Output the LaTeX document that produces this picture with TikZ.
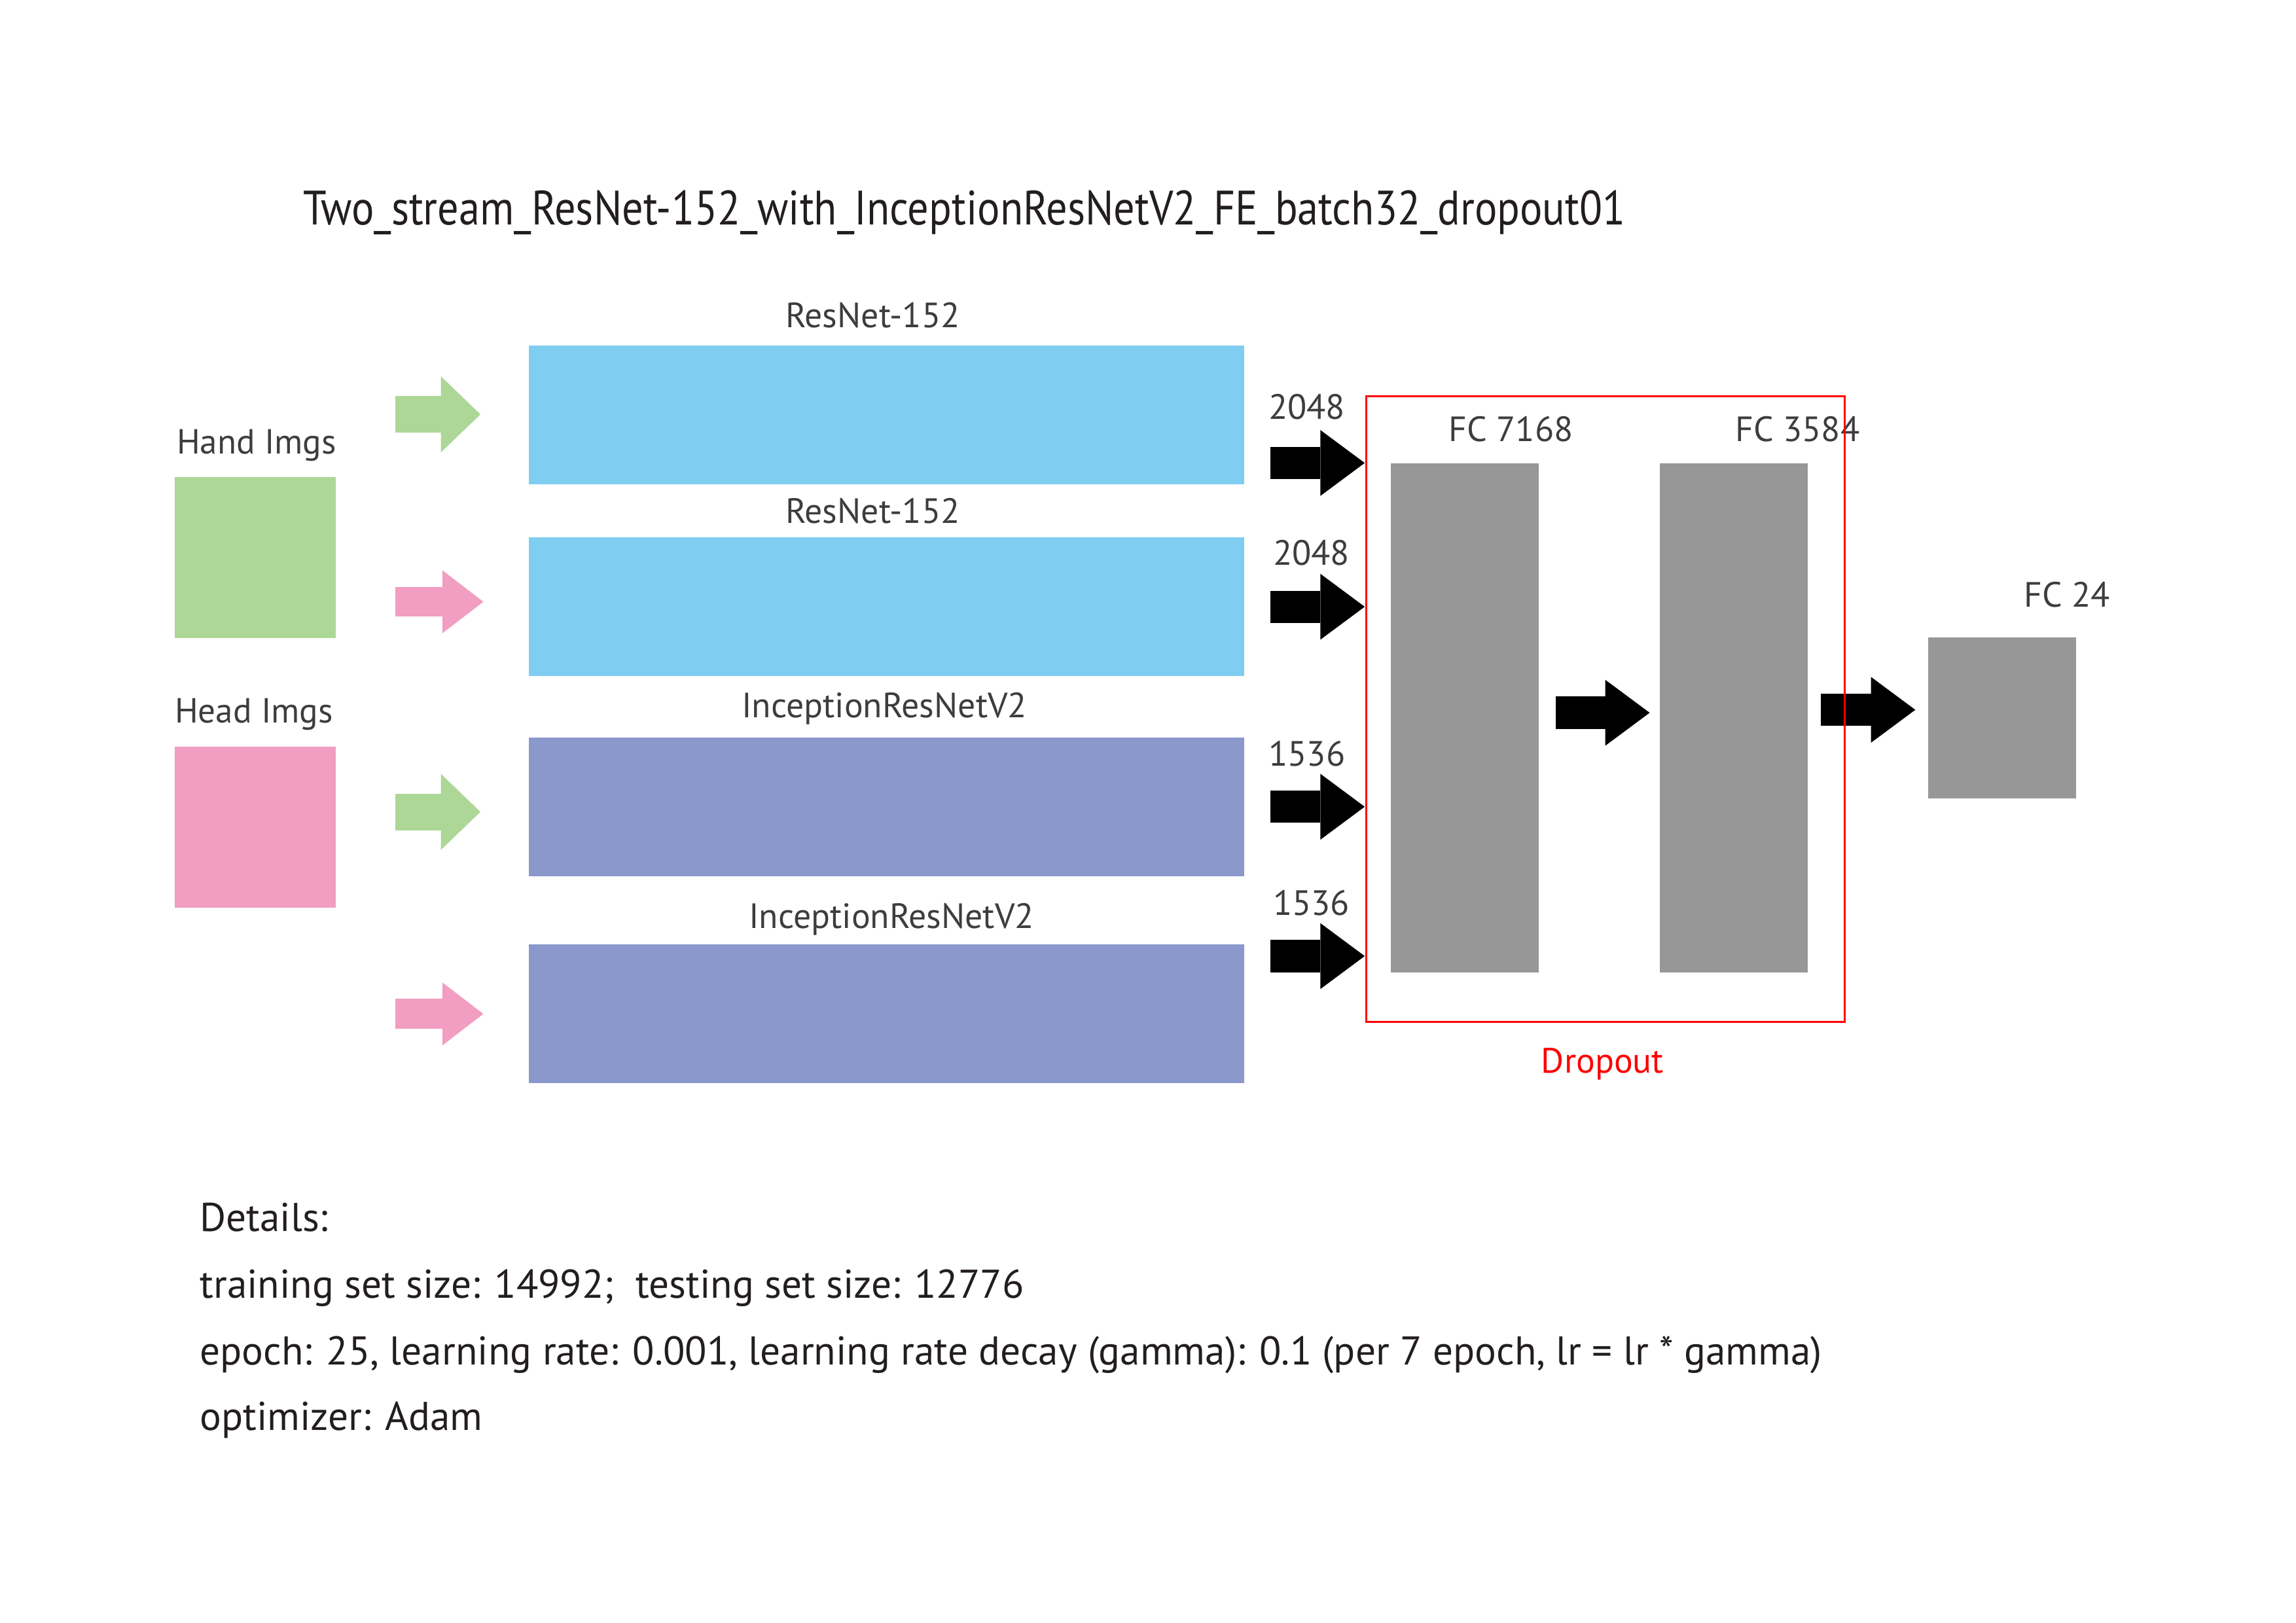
\documentclass[tikz,border=0pt]{standalone}
\usepackage{fontspec}
\setmainfont{PT Sans}
\newfontfamily\titlefont[FakeStretch=0.872]{PT Sans}
\usetikzlibrary{arrows.meta,positioning}

\definecolor{handgreen}{RGB}{173,215,151}
\definecolor{headpink}{RGB}{241,158,194}
\definecolor{resblue}{RGB}{127,206,241}
\definecolor{incpurple}{RGB}{139,152,203}
\definecolor{fcgray}{RGB}{151,151,151}
\definecolor{dropred}{RGB}{255,0,0}
\definecolor{labelgray}{RGB}{62,60,60}
\definecolor{titleblack}{RGB}{35,30,30}

\begin{document}
\begin{tikzpicture}[x=1pt,y=-1pt,every node/.style={inner sep=0pt,outer sep=0pt},
	imgbox/.style={rectangle,minimum size=110pt},
	layer/.style={rectangle,minimum width=488.4pt,minimum height=94.7pt},
	fcbox/.style={rectangle,fill=fcgray,minimum width=101pt},
	lbl/.style={anchor=base,text=labelgray,font=\fontsize{24}{28}\selectfont},
	txt/.style={anchor=base west,text=titleblack,font=\fontsize{27.4}{32}\selectfont},
	handarrow/.style={draw=handgreen,line width=25pt,-{Triangle[length=27pt,width=52pt,line width=0pt,fill=handgreen]}},
	headarrow/.style={draw=headpink,line width=20.5pt,-{Triangle[length=28pt,width=43pt,line width=0pt,fill=headpink]}},
	featarrow/.style={draw=black,line width=22pt,-{Triangle[length=30.3pt,width=45pt,line width=0pt,fill=black]}}]
	\useasboundingbox (0,0) rectangle (1568,1108.5);

	\node[txt,font=\titlefont\fontsize{33}{40}\selectfont] (title) at (207,153.4) {Two\_stream\_ResNet-152\_with\_InceptionResNetV2\_FE\_batch32\_dropout01};

	% inputs
	\node[imgbox,fill=handgreen] (hand) at (174.3,381) {};
	\node[imgbox,fill=headpink] (head) at (174.3,565) {};
	\node[lbl,font=\fontsize{23.8}{28}\selectfont] (handlbl) at (175.2,310) {Hand Imgs};
	\node[lbl,font=\fontsize{23.8}{28}\selectfont] (headlbl) at (173.4,493.5) {Head Imgs};

	% two streams
	\node[layer,fill=resblue] (res1) at (605.3,283.3) {};
	\node[layer,fill=resblue] (res2) at (605.3,414.3) {};
	\node[layer,fill=incpurple] (inc1) at (605.3,551) {};
	\node[layer,fill=incpurple] (inc2) at (605.3,692.4) {};
	\node[lbl] (res1lbl) at (596,223.5) {ResNet-152};
	\node[lbl] (res2lbl) at (596,357.2) {ResNet-152};
	\node[lbl] (inc1lbl) at (603.9,490.3) {InceptionResNetV2};
	\node[lbl] (inc2lbl) at (608.8,634) {InceptionResNetV2};

	\coordinate (in1) at (270,283);
	\coordinate (in2) at (270,411);
	\coordinate (in3) at (270,554.5);
	\coordinate (in4) at (270,692.5);
	\draw[handarrow,shorten >=33pt] (in1) -- (in1 -| res1.west);
	\draw[headarrow,shorten >=31pt] (in2) -- (in2 -| res2.west);
	\draw[handarrow,shorten >=33pt] (in3) -- (in3 -| inc1.west);
	\draw[headarrow,shorten >=31pt] (in4) -- (in4 -| inc2.west);

	% fully connected part
	\node[fcbox,minimum height=347.4pt] (fc1) at (1000.5,490.3) {};
	\node[fcbox,minimum height=347.4pt] (fc2) at (1183.9,490.3) {};
	\node[fcbox,minimum height=109.8pt] (fc3) at (1367.5,490.3) {};

	\coordinate (f1) at (867.6,316.2);
	\coordinate (f2) at (867.6,414.4);
	\coordinate (f3) at (867.6,551);
	\coordinate (f4) at (867.6,653);
	\foreach \i in {1,...,4}
		\draw[featarrow,shorten >=18pt] (f\i) -- (f\i -| fc1.west);
	\node[lbl] (n1) at (892.4,286.3) {2048};
	\node[lbl] (n2) at (895.6,386.1) {2048};
	\node[lbl] (n3) at (892.6,523) {1536};
	\node[lbl] (n4) at (895.6,625) {1536};

	\coordinate (m1) at (1062.4,486.8);
	\coordinate (m2) at (1243.5,484.8);
	\draw[featarrow,shorten >=6.8pt] (m1) -- (m1 -| fc2.west);
	\draw[featarrow,shorten >=9pt] (m2) -- (m2 -| fc3.west);

	\node[lbl] (fc1lbl) at (1031.9,301.5) {FC 7168};
	\node[lbl] (fc2lbl) at (1227.6,301.5) {FC 3584};
	\node[lbl] (fc3lbl) at (1411.6,414.6) {FC 24};

	\node[draw=dropred,line width=1.5pt,minimum width=326.8pt,minimum height=427.4pt] (drop) at (1096.5,484.3) {};
	\node[lbl,text=dropred] (droplbl) at (1094.4,732.6) {Dropout};

	% details
	\node[txt] (d1) at (136.5,841) {Details:};
	\node[txt] (d2) at (136.5,886.5) {training set size: 14992;\ \ testing set size: 12776};
	\node[txt] (d3) at (136.5,932) {epoch: 25, learning rate: 0.001, learning rate decay (gamma): 0.1 (per 7 epoch, lr = lr * gamma)};
	\node[txt] (d4) at (136.5,977) {optimizer: Adam};
\end{tikzpicture}
\end{document}
